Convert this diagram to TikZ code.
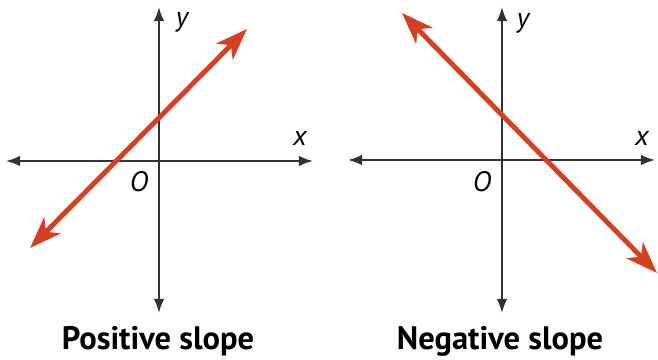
\documentclass[tikz,border=0pt]{standalone}
\usepackage{fontspec}
\setmainfont{PT Sans}
\usetikzlibrary{arrows.meta}
\definecolor{slopered}{RGB}{214,64,34}
\definecolor{axisgray}{RGB}{50,50,50}

\begin{document}
\begin{tikzpicture}[axis/.style={draw=axisgray, line width=1.1pt, {Latex[length=8pt,width=6pt]}-{Latex[length=8pt,width=6pt]}},
  graphline/.style={draw=slopered, line width=2.8pt, {Stealth[length=18pt,width=13pt,inset=5pt]}-{Stealth[length=18pt,width=13pt,inset=5pt]}},
  varlabel/.style={font=\fontsize{16}{16}\selectfont\itshape, inner sep=0pt},
  caption/.style={font=\fontsize{18.5}{18.5}\selectfont\bfseries, inner sep=0pt, anchor=base}]
\path[use as bounding box] (0,0) rectangle (13.16,7.2);
% positive slope
\coordinate (Pxl) at (0.12,3.98);
\coordinate (Pxr) at (6.26,3.98);
\coordinate (Pyt) at (3.18,7.06);
\coordinate (Pyb) at (3.18,0.94);
\coordinate (Pa) at (0.6,2.24);
\coordinate (Pb) at (4.94,6.62);
\draw[axis] (Pxl) -- (Pxr);
\draw[axis] (Pyb) -- (Pyt);
\draw[graphline] (Pa) -- (Pb);
\node[varlabel] (Py) at (3.64,6.76) {y};
\node[varlabel] (Px) at (6.0,4.44) {x};
\node[varlabel] (PO) at (2.78,3.56) {O};
\node[caption] (Pcap) at (3.16,0.2) {Positive slope};
% negative slope
\coordinate (Nxl) at (6.96,4.0);
\coordinate (Nxr) at (13.1,4.0);
\coordinate (Nyt) at (10.04,7.06);
\coordinate (Nyb) at (10.04,0.94);
\coordinate (Na) at (8.04,6.94);
\coordinate (Nb) at (13.14,1.74);
\draw[axis] (Nxl) -- (Nxr);
\draw[axis] (Nyb) -- (Nyt);
\draw[graphline] (Na) -- (Nb);
\node[varlabel] (Ny) at (10.46,6.74) {y};
\node[varlabel] (Nx) at (12.84,4.44) {x};
\node[varlabel] (NO) at (9.64,3.56) {O};
\node[caption] (Ncap) at (10.0,0.2) {Negative slope};
\end{tikzpicture}
\end{document}
